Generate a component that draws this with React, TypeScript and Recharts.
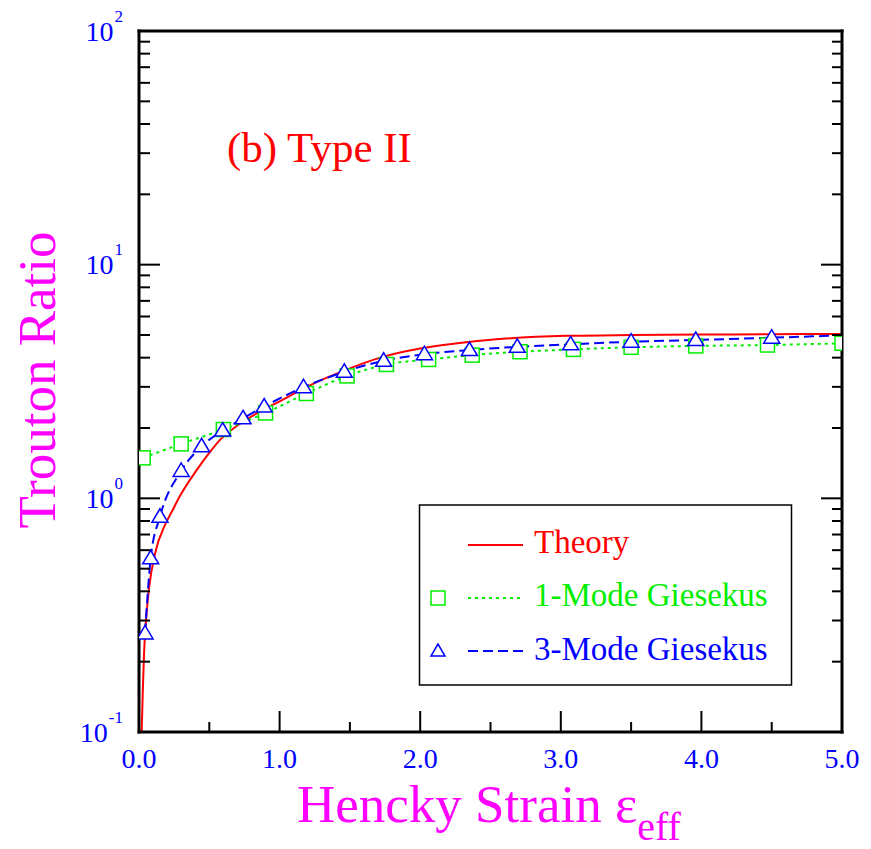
import { ComposedChart, Line, Scatter, XAxis, YAxis } from 'recharts';

// Theory curve (Trouton ratio vs Hencky strain)
const theoryStrain = [0.019, 0.027, 0.036, 0.05, 0.073, 0.114, 0.185, 0.235, 0.29, 0.41, 0.505, 0.576, 0.7, 0.882, 1.0, 1.193, 1.5, 1.74, 2.0, 2.25, 2.54, 3.04, 3.5, 4.0, 4.5, 5.0];
const theoryRatio = [0.1, 0.15, 0.217, 0.3, 0.42, 0.58, 0.77, 0.88, 1.02, 1.32, 1.58, 1.78, 2.05, 2.39, 2.6, 3.0, 3.6, 4.04, 4.38, 4.6, 4.79, 4.96, 5.0, 5.02, 5.04, 5.05];

// 1-mode Giesekus
const oneModeStrain = [0.03, 0.3, 0.6, 0.9, 1.19, 1.48, 1.76, 2.06, 2.37, 2.71, 3.09, 3.5, 3.96, 4.47, 5.0];
const oneModeRatio = [1.49, 1.71, 1.97, 2.32, 2.81, 3.34, 3.74, 3.93, 4.1, 4.24, 4.34, 4.43, 4.49, 4.53, 4.61];

// 3-mode Giesekus (symbols) and the end of its curve
const threeModeStrain = [0.043, 0.083, 0.149, 0.3, 0.445, 0.595, 0.74, 0.89, 1.17, 1.46, 1.74, 2.03, 2.35, 2.69, 3.07, 3.5, 3.96, 4.5];
const threeModeRatio = [0.264, 0.554, 0.834, 1.31, 1.67, 1.95, 2.2, 2.47, 2.99, 3.48, 3.88, 4.14, 4.31, 4.45, 4.56, 4.68, 4.76, 4.87];
const threeModeEnd = { x: 5.0, y: 4.98 };

const xTicks = [0, 0.5, 1, 1.5, 2, 2.5, 3, 3.5, 4, 4.5, 5];
const xMajor = [0, 1, 2, 3, 4, 5];
const yMajor = [0.1, 1, 10, 100];
const yMinorSteps = [2, 3, 4, 5, 6, 7, 8, 9];

const yTicks: number[] = [];
yMajor.forEach((d, i) => {
  yTicks.push(d);
  if (i < yMajor.length - 1) yMinorSteps.forEach((m) => yTicks.push(+(d * m).toPrecision(3)));
});

const zip = (xs: number[], ys: number[]) => xs.map((x, i) => ({ x, y: ys[i] }));
const theory = zip(theoryStrain, theoryRatio);
const oneMode = zip(oneModeStrain, oneModeRatio);
const threeMode = zip(threeModeStrain, threeModeRatio);
const threeModeCurve = [...threeMode, threeModeEnd];

const RED = '#ff0000';
const GREEN = '#00ee00';
const BLUE = '#0000ff';
const MAGENTA = '#ff00ff';
const FONT = '"Liberation Serif", "Times New Roman", serif';

const isMajorX = (v: number) => xMajor.some((m) => Math.abs(m - v) < 1e-6);
const isMajorY = (v: number) => yMajor.some((m) => Math.abs(m - v) < 1e-9);
const exponent = (v: number) => Math.round(Math.log10(v));

// frame edges (the axes are 1px wide so Recharts still draws them)
const LEFT = 139;
const RIGHT = 842;
const TOP = 31;
const BOTTOM = 732;

const BottomTick = (props: any) => {
  const { x, payload } = props;
  const major = isMajorX(payload.value);
  return (
    <g>
      <line x1={x} x2={x} y1={BOTTOM} y2={BOTTOM - (major ? 21 : 10)} stroke="#000" strokeWidth={2} />
      {major && (
        <text x={x} y={BOTTOM + 36} textAnchor="middle" fontFamily={FONT} fontSize={28} fill={BLUE}>
          {payload.value.toFixed(1)}
        </text>
      )}
    </g>
  );
};

const TopTick = (props: any) => {
  const { x, payload } = props;
  const major = isMajorX(payload.value);
  return <line x1={x} x2={x} y1={TOP} y2={TOP + (major ? 21 : 10)} stroke="#000" strokeWidth={2} />;
};

const LeftTick = (props: any) => {
  const { y, payload } = props;
  const major = isMajorY(payload.value);
  return (
    <g>
      <line x1={LEFT} x2={LEFT + (major ? 21 : 11)} y1={y} y2={y} stroke="#000" strokeWidth={2} />
      {major && (
        <text x={123} y={y + 9.5} textAnchor="end" fontFamily={FONT} fontSize={28} fill={BLUE}>
          10
          <tspan dx={1} dy={-19} fontSize={17}>
            {exponent(payload.value)}
          </tspan>
        </text>
      )}
    </g>
  );
};

const RightTick = (props: any) => {
  const { y, payload } = props;
  const major = isMajorY(payload.value);
  return <line x1={RIGHT} x2={RIGHT - (major ? 21 : 10)} y1={y} y2={y} stroke="#000" strokeWidth={2} />;
};

const Square = (props: any) => {
  const { cx, cy } = props;
  if (cx == null || cy == null) return null;
  return <rect x={cx - 7} y={cy - 7} width={14} height={14} fill="#fff" stroke={GREEN} strokeWidth={1.5} />;
};

const Triangle = (props: any) => {
  const { cx, cy } = props;
  if (cx == null || cy == null) return null;
  return (
    <polygon
      points={`${cx},${cy - 8} ${cx - 8},${cy + 5.5} ${cx + 8},${cy + 5.5}`}
      fill="#fff"
      stroke={BLUE}
      strokeWidth={1.5}
    />
  );
};

const frame = { stroke: '#000', strokeWidth: 3, strokeLinecap: 'square' as const };

export default function App() {
  return (
    <div style={{ position: 'absolute', left: 0, top: 0, width: 871, height: 849, background: '#fff' }}>
      <ComposedChart width={871} height={849} margin={{ top: TOP - 1, right: 871 - RIGHT - 1, bottom: 849 - BOTTOM - 1, left: LEFT - 1 }}>
        <XAxis
          xAxisId="b"
          dataKey="x"
          type="number"
          domain={[0, 5]}
          ticks={xTicks}
          interval={0}
          allowDataOverflow
          height={1}
          tickSize={0}
          tickMargin={0}
          tickLine={false}
          axisLine={frame}
          tick={<BottomTick />}
        />
        <XAxis
          xAxisId="t"
          orientation="top"
          type="number"
          domain={[0, 5]}
          ticks={xTicks}
          interval={0}
          allowDataOverflow
          height={1}
          tickSize={0}
          tickMargin={0}
          tickLine={false}
          axisLine={frame}
          tick={<TopTick />}
        />
        <YAxis
          yAxisId="l"
          dataKey="y"
          type="number"
          scale="log"
          domain={[0.1, 100]}
          ticks={yTicks}
          interval={0}
          allowDataOverflow
          width={1}
          tickSize={0}
          tickMargin={0}
          tickLine={false}
          axisLine={frame}
          tick={<LeftTick />}
        />
        <YAxis
          yAxisId="r"
          orientation="right"
          type="number"
          scale="log"
          domain={[0.1, 100]}
          ticks={yTicks}
          interval={0}
          allowDataOverflow
          width={1}
          tickSize={0}
          tickMargin={0}
          tickLine={false}
          axisLine={frame}
          tick={<RightTick />}
        />

        <Line
          xAxisId="b"
          yAxisId="l"
          data={theory}
          dataKey="y"
          type="monotone"
          stroke={RED}
          strokeWidth={2}
          dot={false}
          activeDot={false}
          isAnimationActive={false}
        />
        <Line
          xAxisId="b"
          yAxisId="l"
          data={oneMode}
          dataKey="y"
          type="monotone"
          stroke={GREEN}
          strokeWidth={2}
          strokeDasharray="3 4"
          dot={false}
          activeDot={false}
          isAnimationActive={false}
        />
        <Line
          xAxisId="b"
          yAxisId="l"
          data={threeModeCurve}
          dataKey="y"
          type="monotone"
          stroke={BLUE}
          strokeWidth={2}
          strokeDasharray="10 5"
          dot={false}
          activeDot={false}
          isAnimationActive={false}
        />
        <Scatter xAxisId="b" yAxisId="l" data={oneMode} dataKey="y" shape={<Square />} isAnimationActive={false} />
        <Scatter xAxisId="b" yAxisId="l" data={threeMode} dataKey="y" shape={<Triangle />} isAnimationActive={false} />
      </ComposedChart>

      <svg
        width={871}
        height={849}
        style={{ position: 'absolute', left: 0, top: 0, pointerEvents: 'none' }}
        fontFamily={FONT}
      >
        <text x={227} y={162} fontSize={43} fill={RED}>
          (b) Type II
        </text>

        <text x={55} y={380} fontSize={53} fill={MAGENTA} textAnchor="middle" transform="rotate(-90 55 380)">
          Trouton Ratio
        </text>
        <text x={297} y={822} fontSize={53} fill={MAGENTA}>
          Hencky Strain ε
          <tspan fontSize={40} dy={18}>
            eff
          </tspan>
        </text>

        <rect x={419.5} y={505} width={372} height={180} fill="#fff" stroke="#000" strokeWidth={1.5} />
        <line x1={468} x2={523} y1={545} y2={545} stroke={RED} strokeWidth={2} />
        <text x={534} y={553} fontSize={33} fill={RED}>
          Theory
        </text>
        <rect x={431} y={591} width={14} height={14} fill="#fff" stroke={GREEN} strokeWidth={1.5} />
        <line x1={468} x2={523} y1={598} y2={598} stroke={GREEN} strokeWidth={2} strokeDasharray="3 4" />
        <text x={534} y={606} fontSize={33} fill={GREEN}>
          1-Mode Giesekus
        </text>
        <polygon points="438,644 431,656 445,656" fill="#fff" stroke={BLUE} strokeWidth={1.5} />
        <line x1={468} x2={523} y1={651} y2={651} stroke={BLUE} strokeWidth={2} strokeDasharray="10 5" />
        <text x={534} y={660} fontSize={33} fill={BLUE}>
          3-Mode Giesekus
        </text>
      </svg>
    </div>
  );
}
